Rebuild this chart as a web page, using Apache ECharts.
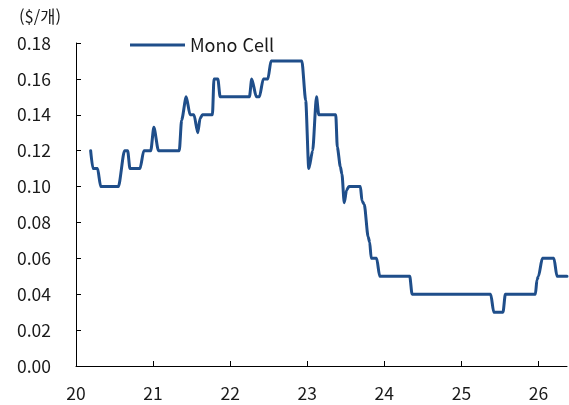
<!DOCTYPE html>
<html lang="ko">
	<head>
		<meta charset="UTF-8">
		<title>Mono Cell</title>
		<style type="text/css">
			html,
			body,
			.canvas {
				padding: 0;
				margin: 0;
				overflow: hidden;
				background-color: #fff;
				width: 569px;
				height: 405px;
			}
		</style>
	</head>
	<body>
		<div class="canvas" id="chart"></div>
		<script type="text/javascript" src="https://cdn.jsdelivr.net/npm/echarts@6/dist/echarts.min.js"></script>
		<script>
			// x = year (20 = 2020), y = $/개
			const years = [
				20.19, 20.22, 20.28, 20.32, 20.55, 20.63, 20.67, 20.70, 20.83, 20.88,
				20.97, 21.01, 21.07, 21.34, 21.37, 21.43, 21.48, 21.53, 21.58, 21.61,
				21.64, 21.77, 21.79, 21.84, 21.87, 22.25, 22.28, 22.34, 22.38, 22.43,
				22.49, 22.53, 22.93, 22.98, 23.02, 23.07, 23.12, 23.15, 23.37, 23.39,
				23.43, 23.45, 23.48, 23.51, 23.54, 23.69, 23.71, 23.74, 23.79, 23.81,
				23.83, 23.90, 23.94, 24.33, 24.36, 25.38, 25.42, 25.54, 25.57, 25.96,
				25.98, 26.00, 26.05, 26.20, 26.24, 26.37
			];
			const prices = [
				0.120, 0.110, 0.110, 0.100, 0.100, 0.120, 0.120, 0.110, 0.110, 0.120,
				0.120, 0.133, 0.120, 0.120, 0.137, 0.150, 0.140, 0.140, 0.130, 0.138,
				0.140, 0.140, 0.160, 0.160, 0.150, 0.150, 0.160, 0.150, 0.150, 0.160,
				0.160, 0.170, 0.170, 0.148, 0.110, 0.120, 0.150, 0.140, 0.140, 0.122,
				0.111, 0.107, 0.091, 0.098, 0.100, 0.100, 0.092, 0.090, 0.072, 0.069,
				0.060, 0.060, 0.050, 0.050, 0.040, 0.040, 0.030, 0.030, 0.040, 0.040,
				0.048, 0.050, 0.060, 0.060, 0.050, 0.050
			];
			const yTicks = ['0.00', '0.02', '0.04', '0.06', '0.08', '0.10', '0.12', '0.14', '0.16', '0.18'];
			const seriesName = 'Mono Cell';
			const unitLabel = '($/개)';

			const font = '"Noto Sans CJK KR", "Noto Sans", sans-serif';
			const textColor = '#1a1a1a';
			const lineColor = '#1f4e8a';

			const chart = echarts.init(document.getElementById('chart'), null, { renderer: 'canvas' });
			chart.setOption({
				animation: false,
				backgroundColor: '#fff',
				textStyle: { fontFamily: font },
				title: {
					text: unitLabel,
					left: 14,
					top: 3,
					textStyle: { fontFamily: font, fontSize: 16.5, fontWeight: 'normal', color: textColor }
				},
				legend: {
					data: [seriesName],
					left: 125,
					top: 31,
					icon: 'rect',
					itemWidth: 55,
					itemHeight: 3,
					itemGap: 3,
					textStyle: { fontFamily: font, fontSize: 18, color: textColor }
				},
				grid: { left: 76, right: 2, top: 43, bottom: 39, containLabel: false },
				xAxis: {
					type: 'value',
					min: 20,
					max: 26.37,
					interval: 1,
					axisLine: { show: true, lineStyle: { color: '#000', width: 1 } },
					axisTick: { show: true, inside: true, length: 5, lineStyle: { color: '#000' } },
					axisLabel: {
						showMaxLabel: false,
						margin: 19,
						fontFamily: font,
						fontSize: 17.5,
						color: textColor,
						formatter: function (v) { return String(Math.round(v)); }
					},
					splitLine: { show: false }
				},
				yAxis: {
					type: 'value',
					min: 0,
					max: 0.18,
					interval: 0.02,
					axisLine: { show: true, lineStyle: { color: '#000', width: 1 } },
					axisTick: { show: true, inside: true, length: 5, lineStyle: { color: '#000' } },
					axisLabel: {
						margin: 25,
						fontFamily: font,
						fontSize: 17.5,
						color: textColor,
						formatter: function (v) { return yTicks[Math.round(v / 0.02)]; }
					},
					splitLine: { show: false }
				},
				series: [{
					name: seriesName,
					type: 'line',
					data: years.map((x, i) => [x, prices[i]]),
					symbol: 'none',
					smooth: 0.25,
					smoothMonotone: 'x',
					lineStyle: { color: lineColor, width: 3, join: 'round', cap: 'round' },
					itemStyle: { color: lineColor }
				}]
			});
		</script>
	</body>
</html>
